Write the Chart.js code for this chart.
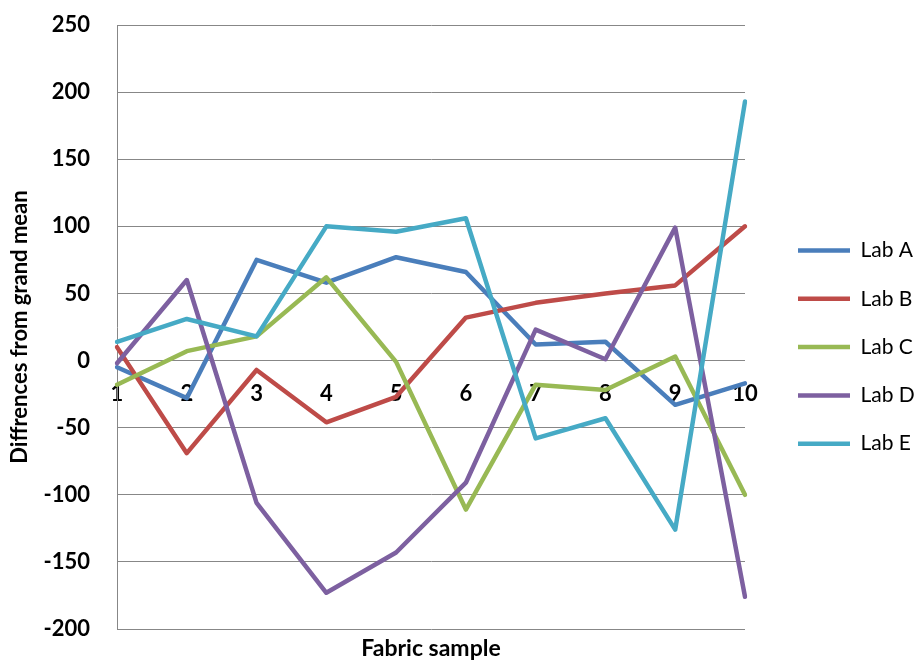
<!DOCTYPE html>
<html>
<head>
<meta charset="utf-8">
<script src="https://cdn.jsdelivr.net/npm/chart.js@4/dist/chart.umd.min.js"></script>
<style>
  html, body { margin: 0; padding: 0; background: #ffffff; }
  #wrap { width: 916px; height: 662px; position: relative; }
</style>
</head>
<body>
<div id="wrap"><canvas id="c"></canvas></div>
<script>
const categories = ['1', '2', '3', '4', '5', '6', '7', '8', '9', '10'];
const labA = [-5, -28, 75, 58, 77, 66, 12, 14, -33, -17];
const labB = [10, -69, -7, -46, -27, 32, 43, 50, 56, 100];
const labC = [-18, 7, 18, 62, -1, -111, -18, -22, 3, -100];
const labD = [-2, 60, -106, -173, -143, -91, 23, 1, 99, -176];
const labE = [14, 31, 18, 100, 96, 106, -58, -43, -126, 193];
const seriesNames = ['Lab A', 'Lab B', 'Lab C', 'Lab D', 'Lab E'];
const yTickValues = [-200, -150, -100, -50, 0, 50, 100, 150, 200, 250];

const colors = ['#4A7EBB', '#BE4B48', '#98B954', '#7D60A0', '#46AAC5'];
const seriesData = [labA, labB, labC, labD, labE];
const FONT = 'Lato, "Open Sans", "Liberation Sans", sans-serif';

const datasets = seriesData.map((d, i) => ({
  label: seriesNames[i],
  data: d,
  borderColor: colors[i],
  backgroundColor: colors[i],
  borderWidth: 4.5,
  borderCapStyle: 'round',
  borderJoinStyle: 'round',
  pointRadius: 0,
  pointHoverRadius: 0,
  tension: 0,
  fill: false,
  order: seriesData.length - i,
  xAxisID: 'x',
  yAxisID: 'y'
}));

new Chart(document.getElementById('c'), {
  type: 'line',
  data: { labels: categories, datasets },
  options: {
    responsive: true,
    maintainAspectRatio: false,
    animation: false,
    devicePixelRatio: 1,
    layout: { padding: { top: 25, left: 4, right: 0, bottom: 0 } },
    plugins: {
      tooltip: { enabled: false },
      legend: {
        position: 'right',
        align: 'center',
        maxWidth: 145.3,
        title: { display: true, text: '', font: { size: 6 }, padding: 0 },
        labels: {
          color: '#000000',
          font: { family: FONT, size: 21, weight: 'normal' },
          usePointStyle: true,
          pointStyle: 'line',
          pointStyleWidth: 52,
          padding: 27.3,
          sort: (a, b) => a.datasetIndex - b.datasetIndex
        }
      }
    },
    scales: {
      x: {
        type: 'category',
        position: { y: 0 },
        offset: false,
        grid: { display: false, drawTicks: false },
        border: { display: false },
        ticks: {
          color: '#000000',
          font: { family: FONT, size: 22, weight: 'bold' },
          padding: 20,
          maxRotation: 0,
          autoSkip: false
        }
      },
      x2: {
        type: 'category',
        labels: categories,
        position: 'bottom',
        offset: false,
        grid: { display: false, drawTicks: false },
        border: { display: false },
        ticks: { display: false },
        title: {
          display: true,
          text: 'Fabric sample',
          color: '#000000',
          font: { family: FONT, size: 23, weight: 'bold' },
          padding: { top: 5.4, bottom: 0 }
        }
      },
      y: {
        type: 'linear',
        position: 'left',
        min: yTickValues[0],
        max: yTickValues[yTickValues.length - 1],
        afterBuildTicks: (scale) => { scale.ticks = yTickValues.map(v => ({ value: v })); },
        grid: { color: '#878787', lineWidth: 1, drawTicks: false },
        border: { display: true, color: '#878787', width: 1 },
        ticks: {
          color: '#000000',
          font: { family: FONT, size: 22, weight: 'bold' },
          padding: 27
        },
        title: {
          display: true,
          text: 'Diffrences from grand mean',
          color: '#000000',
          font: { family: FONT, size: 22, weight: 'bold' },
          padding: { top: 3, bottom: 3 }
        },
        afterFit: (scale) => {
          scale.width = 113;
          scale.paddingTop = 0;
          scale.paddingBottom = 0;
        }
      },
      y2: {
        type: 'linear',
        position: 'right',
        display: true,
        grid: { display: false, drawTicks: false },
        border: { display: false },
        ticks: { display: false },
        afterFit: (scale) => {
          scale.width = 25.7;
          scale.paddingTop = 0;
          scale.paddingBottom = 0;
        }
      }
    }
  }
});
</script>
</body>
</html>
